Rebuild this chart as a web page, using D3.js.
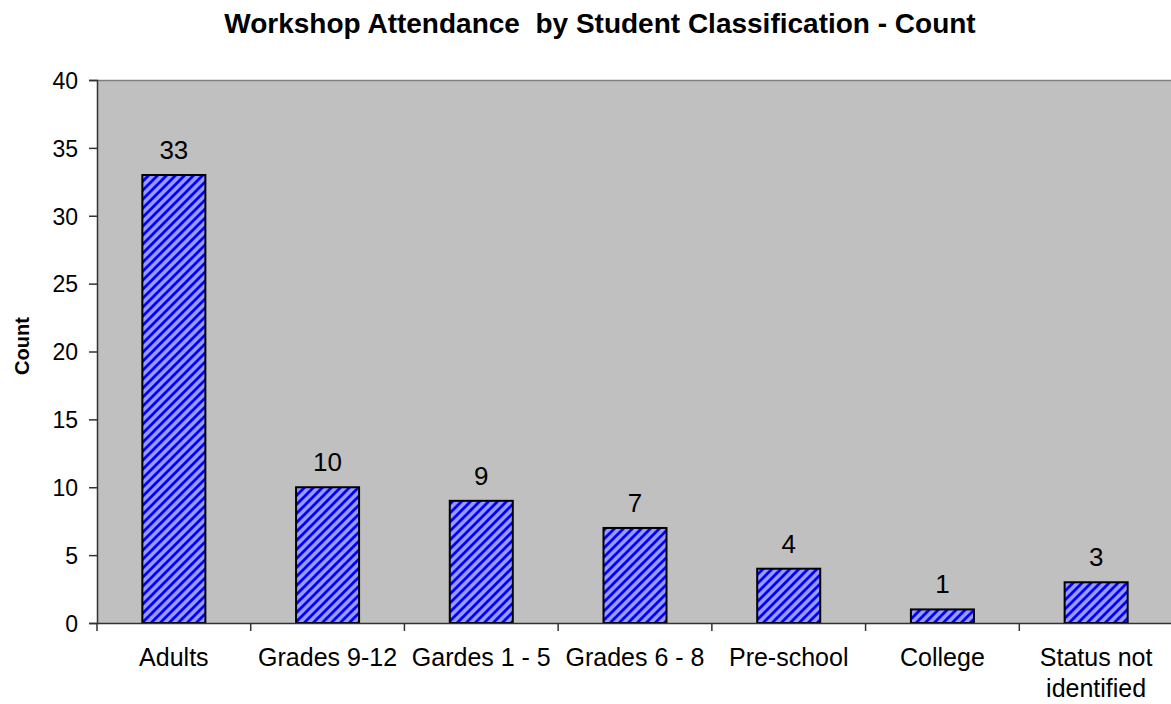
<!DOCTYPE html>
<html><head><meta charset="utf-8">
<script src="https://cdn.jsdelivr.net/npm/d3@7"></script>
<style>body{margin:0;background:#fff;} text{font-family:Arial,"Liberation Sans",sans-serif;}</style>
</head><body>
<svg id="c" width="1171" height="704"></svg>
<script>
const categories = ["Adults","Grades 9-12","Gardes 1 - 5","Grades 6 - 8","Pre-school","College","Status not identified"];
const counts = [33,10,9,7,4,1,3];
const yTicks = [0,5,10,15,20,25,30,35,40];

const svg = d3.select("#c");
const m = {left:97, top:80, right:1173, bottom:623};
const x = d3.scaleBand().domain(categories).range([m.left, m.right]).paddingInner(0.59).paddingOuter(0.295);
const xb = d3.scaleBand().domain(categories).range([m.left, m.right]);
const y = d3.scaleLinear().domain([0,40]).range([m.bottom, m.top]);

const defs = svg.append("defs");
const P = 9;
const pat = defs.append("pattern").attr("id","hatch").attr("patternUnits","userSpaceOnUse")
  .attr("width",P).attr("height",P);
pat.append("rect").attr("width",P).attr("height",P).attr("fill","#9999ff");
pat.append("path").attr("d",`M-2,2 L2,-2 M0,${P} L${P},0 M${P-2},${P+2} L${P+2},${P-2}`).attr("stroke","#0000ff").attr("stroke-width",2.8);

svg.append("rect").attr("x",m.left).attr("y",m.top).attr("width",m.right-m.left).attr("height",m.bottom-m.top)
  .attr("fill","#c0c0c0");
svg.append("line").attr("x1",m.left).attr("x2",m.right).attr("y1",m.top+0.5).attr("y2",m.top+0.5).attr("stroke","#808080").attr("stroke-width",1.5);

svg.selectAll("rect.bar").data(counts).enter().append("rect").attr("class","bar")
  .attr("x",(d,i)=>x(categories[i])).attr("width",x.bandwidth())
  .attr("y",d=>y(d)).attr("height",d=>y(0)-y(d))
  .attr("fill","url(#hatch)").attr("stroke","#000").attr("stroke-width",2);

svg.selectAll("text.val").data(counts).enter().append("text").attr("class","val")
  .attr("x",(d,i)=>x(categories[i])+x.bandwidth()/2).attr("y",d=>y(d)-16)
  .attr("text-anchor","middle").attr("font-size",26).text(d=>d);

// y axis
const ya = svg.append("g").attr("transform",`translate(${m.left},0)`)
  .call(d3.axisLeft(y).tickValues(yTicks).tickSize(8).tickPadding(11));
ya.select(".domain").attr("stroke","#333").attr("stroke-width",1.5);
ya.selectAll(".tick line").attr("stroke","#333").attr("stroke-width",1.5);
ya.selectAll(".tick text").attr("font-size",23).attr("fill","#000").attr("font-family","Arial, 'Liberation Sans', sans-serif").attr("dy","0.36em");

// x axis
const xa = svg.append("g").attr("transform",`translate(0,${m.bottom})`)
  .call(d3.axisBottom(xb).tickSize(0).tickFormat(""));
xa.select(".domain").attr("stroke","#333").attr("stroke-width",1.5);
const bounds = categories.map(c=>xb(c)).concat([m.right]);
svg.selectAll("line.xt").data(bounds).enter().append("line").attr("class","xt")
  .attr("x1",d=>d).attr("x2",d=>d).attr("y1",m.bottom).attr("y2",m.bottom+8)
  .attr("stroke","#333").attr("stroke-width",1.5);

const lab = svg.append("g");
categories.forEach(c=>{
  const cx = xb(c)+xb.bandwidth()/2;
  const lines = c==="Status not identified" ? ["Status not","identified"] : [c];
  lines.forEach((l,j)=>{
    lab.append("text").attr("x",cx).attr("y",666+j*31).attr("text-anchor","middle").attr("font-size",25).text(l);
  });
});

svg.append("text").attr("x",600).attr("y",33).attr("text-anchor","middle").attr("font-size",28).attr("font-weight","bold")
  .style("white-space","pre")
  .text("Workshop Attendance  by Student Classification - Count");
svg.append("text").attr("transform","translate(29,346) rotate(-90)").attr("text-anchor","middle")
  .attr("font-size",20).attr("font-weight","bold").text("Count");
</script>
</body></html>
